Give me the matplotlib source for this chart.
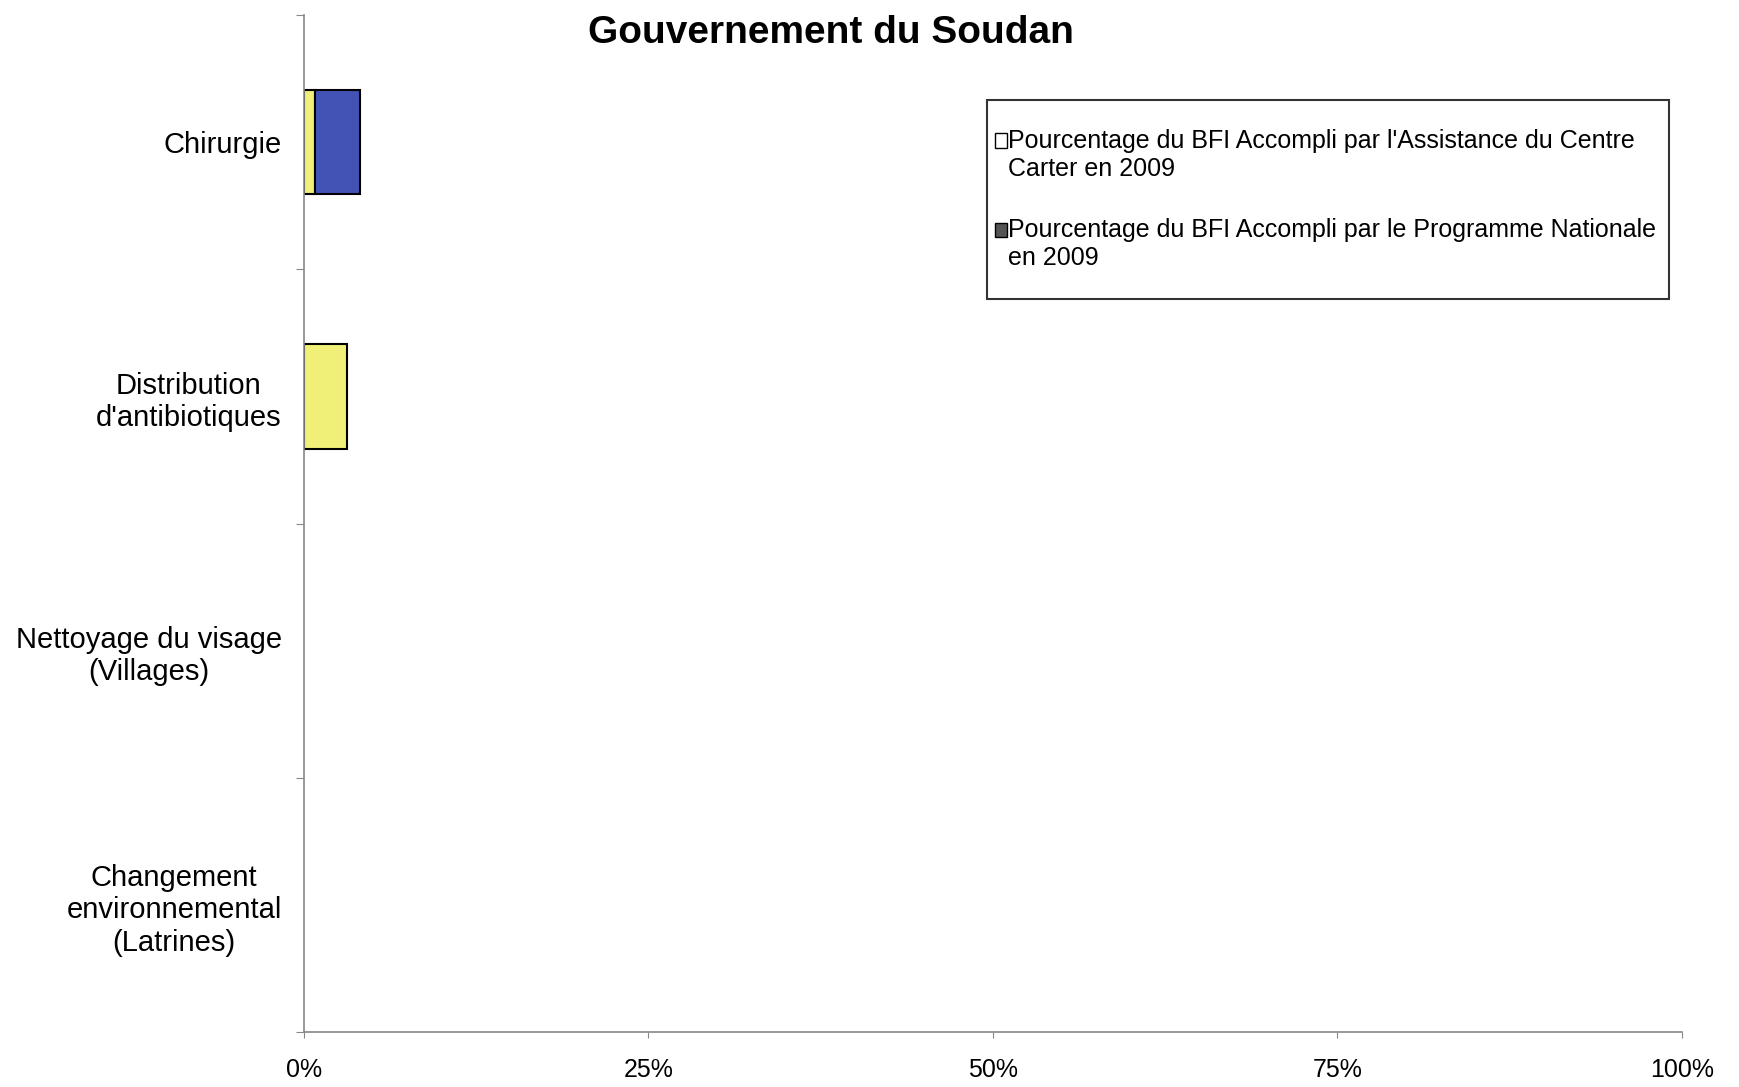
import matplotlib.pyplot as plt
from matplotlib.legend_handler import HandlerPatch

# data (percent of BFI accomplished)
categories = ["Chirurgie", "Distribution\nd'antibiotiques", "Nettoyage du visage\n(Villages)",
              "Changement\nenvironnemental\n(Latrines)"]
carter = [0.8, 3.1, 0.0, 0.0]
national = [3.3, 0.0, 0.0, 0.0]
xticks = [0, 25, 50, 75, 100]
xlabels = ["0%", "25%", "50%", "75%", "100%"]
legend_labels = ["Pourcentage du BFI Accompli par l'Assistance du Centre\nCarter en 2009",
                 "Pourcentage du BFI Accompli par le Programme Nationale\nen 2009"]

plt.rcParams['font.family'] = ['Liberation Sans', 'DejaVu Sans']

fig = plt.figure(figsize=(17.39, 10.87), dpi=100)
ax = fig.add_axes([0.1748, 0.0506, 0.7924, 0.9354])

n = len(categories)
pos = [n - 0.5 - i for i in range(n)]

ax.barh(pos, carter, height=0.41, color='#F0F078', edgecolor='black',
        linewidth=[1.5 if v > 0 else 0 for v in carter])
ax.barh(pos, national, left=carter, height=0.41, color='#4352B5', edgecolor='black',
        linewidth=[1.5 if v > 0 else 0 for v in national])

ax.set_xlim(0, 100)
ax.set_ylim(0, n)
ax.set_xticks(xticks)
ax.set_xticklabels(xlabels, fontsize=18)
ax.tick_params(axis='x', length=4, pad=15, color='#888888')

ax.set_yticks(range(n + 1))
ax.set_yticklabels([])
ax.set_yticks(pos, minor=True)
ax.set_yticklabels(categories, minor=True, fontsize=21, multialignment='center')
ax.tick_params(axis='y', which='major', length=6, color='#888888')
ax.tick_params(axis='y', which='minor', length=0, pad=16)

for s in ['top', 'right']:
    ax.spines[s].set_visible(False)
for s in ['left', 'bottom']:
    ax.spines[s].set_color('#888888')
    ax.spines[s].set_linewidth(1.2)


def raised_box(legend, orig_handle, xdescent, ydescent, width, height, fontsize):
    # small square beside the first line, pulled towards the frame edge
    return plt.Rectangle((-xdescent - 15, -ydescent + fontsize * 0.6), width, height)


h1 = plt.Rectangle((0, 0), 1, 1, facecolor='white', edgecolor='black', linewidth=1)
h2 = plt.Rectangle((0, 0), 1, 1, facecolor='#555555', edgecolor='black', linewidth=1)
leg = ax.legend([h1, h2], legend_labels, loc='upper left',
                bbox_to_anchor=(0.4956, 0.7164, 0.4949, 0.2), mode='expand',
                fontsize=18, frameon=True, fancybox=False, edgecolor='black',
                handlelength=0.5, handleheight=0.5, handletextpad=-0.8, labelspacing=1.5,
                borderpad=1.15, borderaxespad=0,
                handler_map={plt.Rectangle: HandlerPatch(patch_func=raised_box)})
leg.get_frame().set_linewidth(1.5)

fig.text(0.478, 1 - 33 / 1087, "Gouvernement du Soudan", fontsize=28, fontweight='bold',
         ha='center', va='center')

fig.savefig("out.png", dpi=100)
